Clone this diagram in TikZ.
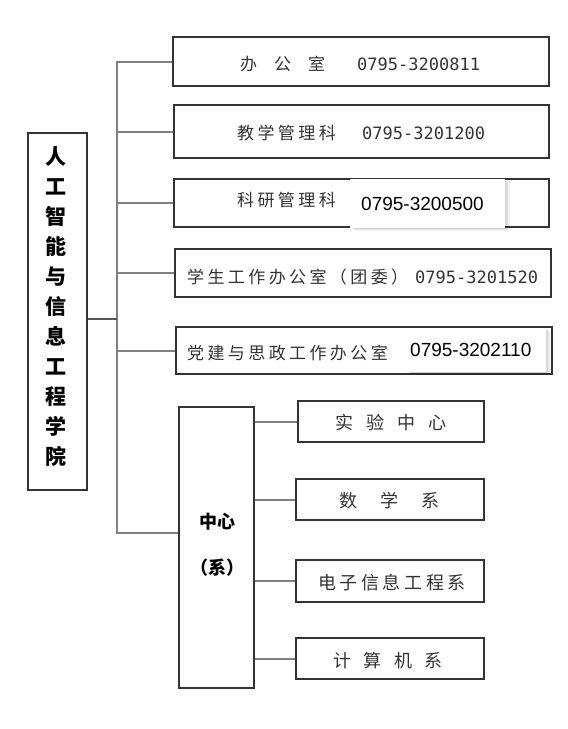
\documentclass[tikz,border=0pt]{standalone}
\usepackage{fontspec}
\newfontfamily\cjk{Noto Sans CJK SC}
\newfontfamily\cjkt[LetterSpace=20]{Noto Sans CJK SC}
\newfontfamily\numf{DejaVu Sans Mono}
\newfontfamily\arialf{Liberation Sans}
\definecolor{txt}{HTML}{333333}
\definecolor{edgec}{HTML}{333333}
\definecolor{connc}{HTML}{808080}
\definecolor{mainc}{HTML}{555555}
\begin{document}
\begin{tikzpicture}[x=1pt,y=-1pt,
  box/.style={draw=edgec, line width=1.3pt, fill=white, inner sep=0pt},
  conn/.style={draw=connc, line width=2pt},
  lbl/.style={text=txt, inner sep=0pt, anchor=west, font=\cjkt\fontsize{17}{17}\selectfont},
  wlbl/.style={text=txt, inner sep=0pt, anchor=west, font=\cjk\fontsize{17}{17}\selectfont},
  clbl/.style={text=txt, inner sep=0pt, anchor=west, font=\cjk\fontsize{18}{18}\selectfont},
  num/.style={text=txt, inner sep=0pt, anchor=west, font=\numf\fontsize{17}{17}\selectfont},
  over/.style={fill=white, inner sep=0pt},
  overtxt/.style={text=black, inner sep=0pt, anchor=west, font=\arialf\fontsize{19}{19}\selectfont}]
\useasboundingbox[fill=white] (0,0) rectangle (568,729);

% main box
\node[box, minimum width=59pt, minimum height=357pt] (main) at (57.5,311.5) {};
\node[inner sep=0pt, align=center, font=\cjk\bfseries\fontsize{21}{30}\selectfont] (mainlbl) at (56,307)
  {人\\工\\智\\能\\与\\信\\息\\工\\程\\学\\院};

% top boxes
\node[box, minimum width=376pt, minimum height=49pt] (b1) at (361,61.5) {};
\node[box, minimum width=375pt, minimum height=53pt] (b2) at (361.5,131.5) {};
\node[box, minimum width=375pt, minimum height=48pt] (b3) at (361.5,203) {};
\node[box, minimum width=376pt, minimum height=48pt] (b4) at (363,273) {};
\node[box, minimum width=376pt, minimum height=47pt] (b5) at (364,350.5) {};

\node[wlbl] (t1) at (240,64) {办\hspace{17pt}公\hspace{17pt}室};
\node[num] (n1) at (357,64) {0795-3200811};
\node[lbl] (t2) at (237,133) {教学管理科};
\node[num] (n2) at (362,133) {0795-3201200};
\node[lbl] (t3) at (237,200) {科研管理科};
\node[lbl] (t4) at (187,277) {学生工作办公室（团委）};
\node[num] (n4) at (415,277) {0795-3201520};
\node[lbl] (t5) at (187,353) {党建与思政工作办公室};

% overlays with soft shadow
\foreach \s in {1,2,3,4,5}{
  \fill[black, opacity=0.035] (350+\s,179+0.5*\s) rectangle (505+\s,228+0.5*\s);
  \fill[black, opacity=0.035] (406+\s,328+0.5*\s) rectangle (546+\s,372+0.5*\s);
}
\node[over, minimum width=155pt, minimum height=49pt] (o3) at (427.5,203.5) {};
\node[overtxt] (n3) at (361,204) {0795-3200500};
\node[over, minimum width=140pt, minimum height=44pt] (o5) at (476,350) {};
\node[overtxt] (n5) at (410,350) {0795-3202110};

% center box
\node[box, minimum width=75pt, minimum height=281pt] (ctr) at (216.5,547.5) {};
\node[inner sep=0pt, font=\cjk\bfseries\fontsize{18}{18}\selectfont] (ctr1) at (217,522) {中心};
\node[inner sep=0pt, font=\cjk\bfseries\fontsize{18}{18}\selectfont] (ctr2) at (217,568) {（系）};

% child boxes
\node[box, minimum width=186pt, minimum height=41pt] (c1) at (391,421.5) {};
\node[box, minimum width=188pt, minimum height=41pt] (c2) at (390,499.5) {};
\node[box, minimum width=188pt, minimum height=42pt] (c3) at (390,581) {};
\node[box, minimum width=188pt, minimum height=41pt] (c4) at (390,658.5) {};

\node[clbl] (l1) at (335,423) {实\hspace{13pt}验\hspace{13pt}中\hspace{13pt}心};
\node[clbl] (l2) at (339,501) {数\hspace{23pt}学\hspace{23pt}系};
\node[clbl, font=\cjkt\fontsize{18}{18}\selectfont] (l3) at (318,583) {电子信息工程系};
\node[clbl] (l4) at (333,661) {计\hspace{12.5pt}算\hspace{12.5pt}机\hspace{12.5pt}系};

% connectors
\coordinate (tb) at (117,533);
\draw[conn] (b1.west) -| (tb) -- (tb -| ctr.west);
\draw[conn] (b2.west) -- (b2.west -| tb);
\draw[conn] (b3.west) -- (b3.west -| tb);
\draw[conn] (b4.west) -- (b4.west -| tb);
\draw[conn] (b5.west) -- (b5.west -| tb);
\coordinate (mj) at (117,319);
\draw[conn, draw=mainc, line width=2.4pt] (mj -| main.east) -- (mj);
\draw[conn] (c1.west) -- (c1.west -| ctr.east);
\draw[conn] (c2.west) -- (c2.west -| ctr.east);
\draw[conn] (c3.west) -- (c3.west -| ctr.east);
\draw[conn] (c4.west) -- (c4.west -| ctr.east);
\end{tikzpicture}
\end{document}
